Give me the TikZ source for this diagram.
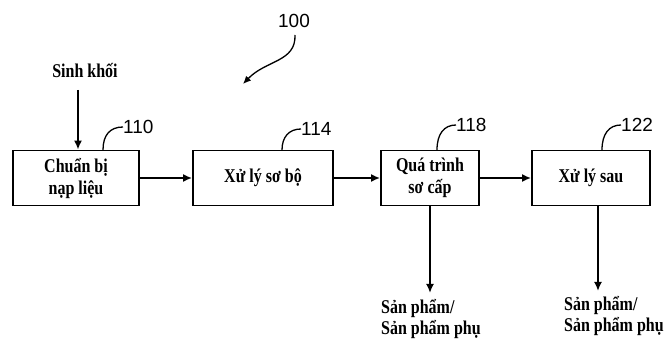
\documentclass[tikz,border=0pt]{standalone}
\usepackage{fontspec}
\newfontfamily\vnfont[FakeStretch=0.82]{Liberation Serif}
\newfontfamily\numfont{Liberation Sans}
\usetikzlibrary{arrows.meta}
\tikzset{
  procbox/.style={draw, line width=1.8pt, minimum height=55pt, inner sep=0pt, align=center,
    font=\vnfont\bfseries\fontsize{19.5}{22}\selectfont},
  vntext/.style={inner sep=0pt, align=left, font=\vnfont\bfseries\fontsize{19.5}{21.5}\selectfont},
  numlabel/.style={inner sep=0pt, anchor=west, font=\numfont\fontsize{19}{21}\selectfont},
  flow/.style={line width=1.8pt, -{Latex[length=9pt,width=8pt]}},
  leader/.style={line width=1.3pt}
}
\begin{document}
\begin{tikzpicture}[x=1pt,y=-1pt]
\useasboundingbox (0,0) rectangle (665,342);
\node[procbox, minimum width=126pt] (b110) at (76,178) {Chuẩn bị\\nạp liệu};
\node[procbox, minimum width=140pt] (b114) at (263,178) {Xử lý sơ bộ};
\node[procbox, minimum width=98pt] (b118) at (430,178) {Quá trình\\sơ cấp};
\node[procbox, minimum width=118pt] (b122) at (591,178) {Xử lý sau};

\node[vntext] (sinh) at (85,71) {Sinh khối};
\coordinate (sinhs) at (78,90);
\draw[flow] (sinhs) -- (b110.north -| sinhs);

\draw[flow] (b110.east) -- (b114.west);
\draw[flow] (b114.east) -- (b118.west);
\draw[flow] (b118.east) -- (b122.west);

\node[vntext, anchor=north west] (out1) at (381,299) {Sản phẩm/\\Sản phẩm phụ};
\node[vntext, anchor=north west] (out2) at (564,296) {Sản phẩm/\\Sản phẩm phụ};
\coordinate (o1) at (430,293);
\coordinate (o2) at (598,291);
\draw[flow] (b118.south -| o1) -- (o1);
\draw[flow] (b122.south -| o2) -- (o2);

\node[numlabel] (l110) at (123,127) {110};
\node[numlabel] (l114) at (301,129) {114};
\node[numlabel] (l118) at (456,125) {118};
\node[numlabel] (l122) at (621,125) {122};
\draw[leader] (103,150) .. controls (103,135) and (110,127) .. (l110.west);
\draw[leader] (282,150) .. controls (282,137) and (289,129) .. (l114.west);
\draw[leader] (437,150) .. controls (437,134) and (444,125) .. (l118.west);
\draw[leader] (602,150) .. controls (602,134) and (609,125) .. (l122.west);

\node[numlabel, anchor=center] (l100) at (294,21) {100};
\draw[line width=1.3pt, -{Latex[length=8pt,width=7pt]}] (295,35) .. controls (296,62) and (266,60) .. (243,84);
\end{tikzpicture}
\end{document}
